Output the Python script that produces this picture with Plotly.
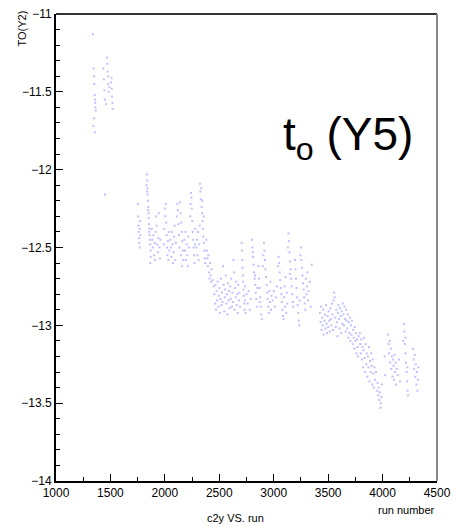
import plotly.graph_objects as go

# ---- data: (run number, t0) ----
runs_early = [1340, 1345, 1350, 1352, 1355, 1358, 1360, 1362, 1365, 1348, 1343, 1357,
              1435, 1440, 1445, 1450, 1470, 1472, 1475, 1478, 1480, 1482, 1490, 1510,
              1512, 1515, 1518, 1520, 1505, 1460, 1450]
t0_early = [-11.13, -11.35, -11.40, -11.45, -11.52, -11.55, -11.57, -11.60, -11.62, -11.67, -11.72, -11.76,
            -11.35, -11.42, -11.49, -11.55, -11.28, -11.32, -11.37, -11.40, -11.45, -11.50, -11.47, -11.41,
            -11.48, -11.53, -11.57, -11.61, -11.44, -11.58, -12.16]

runs_seg1 = [1752, 1755, 1758, 1760, 1763, 1765, 1768, 1770, 1772, 1775,
             1832, 1835, 1838, 1840, 1842, 1845, 1848, 1850, 1852, 1855, 1858, 1860, 1862, 1865, 1868, 1870, 1836, 1846, 1856, 1866,
             1880, 1885, 1890, 1895, 1900, 1905, 1910, 1915, 1920, 1925, 1930, 1935, 1940, 1945, 1950, 1955, 1960,
             1990, 1995, 2000, 2004, 2008, 2012, 2016, 2020, 2024, 2028, 2032, 2036, 2040,
             2050, 2055, 2060, 2065, 2070, 2075, 2080, 2085, 2090, 2095, 2100,
             2110, 2115, 2120, 2125, 2130, 2140, 2145, 2150, 2155, 2160, 2165, 2170, 2148, 2158, 2135,
             2180, 2185, 2190, 2195, 2200, 2205, 2210, 2215, 2220,
             2232, 2236, 2240, 2244, 2248, 2252, 2256, 2260, 2264, 2268, 2272, 2276, 2280,
             2290, 2295, 2300, 2305, 2310, 2315, 2320,
             2322, 2326, 2330, 2334, 2338, 2342, 2346, 2350, 2354, 2358, 2362, 2366, 2370, 2344, 2356,
             2380, 2385, 2390, 2395, 2400, 2405, 2410, 2415, 2420, 2425, 2430, 2440, 2450]
t0_seg1 = [-12.22, -12.30, -12.36, -12.40, -12.44, -12.47, -12.38, -12.50, -12.33, -12.42,
           -12.10, -12.03, -12.07, -12.12, -12.16, -12.20, -12.24, -12.28, -12.31, -12.35, -12.38, -12.42, -12.45, -12.48, -12.52, -12.56, -12.14, -12.26, -12.40, -12.60,
           -12.38, -12.45, -12.50, -12.42, -12.55, -12.47, -12.58, -12.40, -12.30, -12.36, -12.48, -12.53, -12.44, -12.28, -12.50, -12.57, -12.45,
           -12.48, -12.38, -12.25, -12.30, -12.22, -12.34, -12.42, -12.50, -12.55, -12.46, -12.58, -12.40, -12.52,
           -12.45, -12.50, -12.56, -12.40, -12.48, -12.60, -12.53, -12.43, -12.36, -12.58, -12.47,
           -12.30, -12.22, -12.26, -12.35, -12.42, -12.21, -12.28, -12.34, -12.40, -12.46, -12.52, -12.58, -12.55, -12.62, -12.50,
           -12.45, -12.52, -12.40, -12.58, -12.48, -12.55, -12.62, -12.43, -12.50,
           -12.30, -12.22, -12.15, -12.18, -12.25, -12.33, -12.40, -12.45, -12.50, -12.55, -12.60, -12.48, -12.38,
           -12.50, -12.45, -12.55, -12.40, -12.58, -12.48, -12.36,
           -12.09, -12.14, -12.19, -12.12, -12.24, -12.28, -12.33, -12.38, -12.43, -12.47, -12.52, -12.57, -12.60, -12.20, -12.30,
           -12.45, -12.52, -12.57, -12.62, -12.55, -12.66, -12.70, -12.60, -12.68, -12.72, -12.64, -12.71, -12.75]

runs_seg2 = [2455, 2460, 2465, 2470, 2475, 2480, 2485, 2490, 2495, 2500, 2505, 2510, 2515, 2520, 2525, 2530,
             2535, 2540, 2545, 2550, 2555, 2560, 2565, 2570, 2575, 2580, 2585, 2590, 2595, 2600, 2605, 2610,
             2615, 2620, 2625, 2630, 2635, 2640, 2645, 2650, 2655, 2660, 2665, 2670, 2675, 2680, 2685, 2690,
             2705, 2708, 2711, 2714, 2717, 2720, 2723, 2726, 2729, 2732, 2735, 2738, 2741,
             2750, 2760, 2770, 2780, 2790,
             2800, 2805, 2810, 2815, 2820, 2825, 2830, 2835, 2840, 2845, 2850, 2808, 2828,
             2860, 2865, 2870, 2875, 2880, 2885, 2890, 2872,
             2900, 2905, 2910, 2915, 2920, 2925, 2930, 2935, 2940, 2945, 2950, 2955, 2960, 2965, 2970, 2975, 2980,
             2990, 3000, 3010, 3020, 3030,
             3040, 3045, 3050, 3055, 3060, 3065, 3070, 3075, 3080, 3085, 3090, 3095, 3100, 3105, 3110, 3115, 3120, 3125,
             3130, 3135, 3140, 3145, 3150, 3155, 3160, 3165, 3170, 3175, 3180, 3148,
             3195, 3200, 3205, 3210, 3215, 3220, 3225, 3230, 3235, 3240,
             3245, 3250, 3255, 3260, 3265, 3270, 3275, 3280, 3285, 3290, 3295, 3300, 3305, 3310, 3315, 3320, 3330, 3340, 3350]
t0_seg2 = [-12.80, -12.86, -12.74, -12.90, -12.78, -12.84, -12.72, -12.88, -12.81, -12.76, -12.92, -12.83, -12.70, -12.87, -12.79, -12.85,
           -12.62, -12.74, -12.91, -12.82, -12.77, -12.68, -12.86, -12.80, -12.93, -12.73, -12.84, -12.78, -12.89, -12.75, -12.83, -12.70,
           -12.88, -12.79, -12.85, -12.58, -12.66, -12.90, -12.76, -12.82, -12.72, -12.87, -12.80, -12.92, -12.74, -12.84, -12.79, -12.88,
           -12.47, -12.52, -12.58, -12.63, -12.68, -12.72, -12.77, -12.81, -12.86, -12.90, -12.84, -12.75, -12.92,
           -12.80, -12.86, -12.78, -12.90, -12.83,
           -12.45, -12.50, -12.56, -12.61, -12.66, -12.70, -12.74, -12.79, -12.83, -12.88, -12.76, -12.53, -12.68,
           -12.62, -12.70, -12.76, -12.82, -12.88, -12.93, -12.96, -12.85,
           -12.62, -12.55, -12.47, -12.52, -12.58, -12.64, -12.69, -12.74, -12.79, -12.83, -12.88, -12.92, -12.78, -12.85, -12.72, -12.90, -12.81,
           -12.84, -12.78, -12.88, -12.82, -12.75,
           -12.62, -12.56, -12.60, -12.66, -12.71, -12.76, -12.80, -12.85, -12.90, -12.94, -12.96, -12.82, -12.75, -12.88, -12.69, -12.92, -12.79, -12.86,
           -12.50, -12.41, -12.46, -12.53, -12.59, -12.64, -12.70, -12.75, -12.80, -12.85, -12.88, -12.67,
           -12.58, -12.64, -12.70, -12.76, -12.82, -12.87, -12.92, -12.97, -13.00, -12.84,
           -12.55, -12.50, -12.58, -12.63, -12.68, -12.73, -12.77, -12.82, -12.86, -12.90, -12.70, -12.80, -12.75, -12.66, -12.84, -12.78, -12.72, -12.88, -12.61]

runs_seg3 = [3425, 3430, 3435, 3440, 3445, 3450, 3455, 3460, 3465, 3470, 3475, 3480, 3485, 3490, 3495, 3500,
             3505, 3510, 3515, 3520, 3525, 3530, 3535, 3540, 3545, 3550, 3555, 3560, 3565, 3570, 3575, 3580,
             3585, 3590, 3595, 3600, 3605, 3610, 3615, 3620, 3625, 3630, 3635, 3640, 3645, 3650, 3655, 3660,
             3665, 3670, 3675, 3680, 3685, 3690, 3695, 3700, 3705, 3710, 3715, 3720, 3725, 3730, 3735, 3740,
             3745, 3750, 3755, 3760, 3765, 3770, 3775, 3780]
t0_seg3 = [-12.92, -12.98, -12.88, -13.03, -12.95, -13.00, -12.90, -13.06, -12.97, -12.93, -13.02, -12.87, -12.99, -13.05, -12.94, -13.01,
           -12.91, -12.97, -13.04, -12.89, -12.96, -13.00, -12.86, -12.93, -13.03, -12.84, -12.79, -12.82, -12.95, -13.01, -12.90, -12.98,
           -13.07, -12.92, -12.87, -12.96, -13.02, -12.89, -12.94, -13.05, -12.91, -12.99, -12.86, -12.93, -13.00, -12.88, -12.96, -13.04,
           -12.90, -12.97, -13.02, -12.93, -13.08, -12.98, -13.05, -12.95, -13.10, -13.00, -13.06, -12.97, -13.12, -13.03, -13.08, -13.15,
           -13.01, -13.10, -13.05, -13.18, -13.09, -13.14, -13.20, -13.07]

runs_seg4 = [3790, 3795, 3800, 3805, 3810, 3815, 3820, 3825, 3830, 3835, 3840, 3845, 3850, 3855, 3860, 3865,
             3870, 3875, 3880, 3885, 3890, 3895, 3900, 3905, 3910, 3915, 3920, 3925, 3930, 3940, 3950, 3955,
             3960, 3965, 3970, 3975, 3980, 3985, 3990, 3995,
             4020, 4025,
             4050, 4055, 4060, 4065, 4070, 4075, 4080, 4085, 4090, 4095, 4100, 4105, 4110, 4115, 4120, 4125, 4130, 4140, 4150, 4160,
             4190, 4195, 4200, 4205, 4210, 4215, 4220, 4225, 4230, 4235, 4212, 4228,
             4280, 4285, 4290, 4295, 4300, 4305, 4310, 4315, 4320, 4325, 4330]
t0_seg4 = [-13.05, -13.12, -13.18, -13.09, -13.22, -13.14, -13.27, -13.16, -13.08, -13.21, -13.30, -13.12, -13.25, -13.18, -13.33, -13.20,
           -13.27, -13.14, -13.36, -13.23, -13.30, -13.18, -13.26, -13.38, -13.22, -13.31, -13.40, -13.27, -13.35, -13.30, -13.42, -13.37,
           -13.45, -13.40, -13.48, -13.43, -13.53, -13.50, -13.46, -13.38,
           -13.20, -13.32,
           -13.06, -13.12, -13.18, -13.10, -13.24, -13.15, -13.28, -13.20, -13.33, -13.22, -13.26, -13.35, -13.19, -13.30, -13.24, -13.38, -13.28, -13.32, -13.22, -13.36,
           -13.10, -12.99, -13.04, -13.12, -13.18, -13.24, -13.30, -13.36, -13.42, -13.45, -13.08, -13.27,
           -13.15, -13.22, -13.28, -13.19, -13.33, -13.25, -13.38, -13.30, -13.42, -13.35, -13.27]

x_ticks = [1000, 1500, 2000, 2500, 3000, 3500, 4000, 4500]
y_ticks = [-14, -13.5, -13, -12.5, -12, -11.5, -11]

runs = runs_early + runs_seg1 + runs_seg2 + runs_seg3 + runs_seg4
t0 = t0_early + t0_seg1 + t0_seg2 + t0_seg3 + t0_seg4

FONT = "Liberation Sans, Arial, Helvetica, sans-serif"

fig = go.Figure()
fig.add_trace(go.Scatter(
    x=runs, y=t0, mode="markers",
    marker=dict(symbol="square", size=2, color="rgba(150,150,255,0.6)", line=dict(width=0)),
    showlegend=False, hoverinfo="x+y"))

fig.update_layout(
    width=453, height=527,
    margin=dict(l=56, r=16, t=14, b=46),
    paper_bgcolor="white", plot_bgcolor="white",
    font=dict(family=FONT, size=12, color="black"),
    xaxis=dict(range=[1000, 4500], tickvals=x_ticks, ticks="inside", ticklen=7, tickwidth=1,
               tickcolor="black", showline=True, linecolor="black", linewidth=2,
               showgrid=False, zeroline=False, automargin=False,
               minor=dict(ticks="inside", dtick=250, ticklen=4, tickcolor="black", showgrid=False),
               tickfont=dict(size=12)),
    yaxis=dict(range=[-14, -11], tickvals=y_ticks, ticks="inside", ticklen=7, tickwidth=1,
               tickcolor="black", showline=True, linecolor="black", linewidth=2,
               showgrid=False, zeroline=False, automargin=False,
               minor=dict(ticks="inside", dtick=0.1, ticklen=4, tickcolor="black", showgrid=False),
               tickfont=dict(size=12)),
    shapes=[
        dict(type="line", xref="paper", yref="paper", x0=0, x1=1, y0=1, y1=1,
             line=dict(color="#333333", width=2)),
        dict(type="line", xref="paper", yref="paper", x0=1, x1=1, y0=0, y1=1,
             line=dict(color="#888888", width=2)),
    ],
    annotations=[
        dict(text="TO(Y2)", xref="paper", yref="paper", x=-0.088, y=0.97, textangle=-90,
             showarrow=False, font=dict(size=11), xanchor="center", yanchor="middle"),
        dict(text="run number", xref="paper", yref="paper", x=1.0, y=-0.044,
             showarrow=False, font=dict(size=11), xanchor="right", yanchor="top"),
        dict(text="c2y VS. run", xref="paper", yref="paper", x=0.47, y=-0.062,
             showarrow=False, font=dict(size=11), xanchor="center", yanchor="top"),
        dict(text="t<sub>o</sub> (Y5)", xref="paper", yref="paper", x=0.59, y=0.735,
             showarrow=False, font=dict(size=46, family=FONT), xanchor="left", yanchor="middle"),
    ],
)

fig.write_html("out.html", config={"displayModeBar": False},
               post_script="document.body.style.margin='0';document.body.style.overflow='hidden';")
